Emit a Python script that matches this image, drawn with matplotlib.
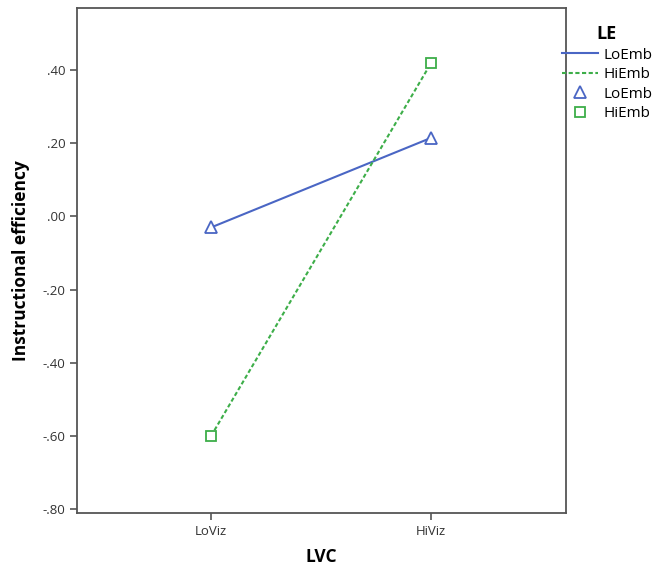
import matplotlib
matplotlib.use("Agg")
import matplotlib.pyplot as plt
from matplotlib.lines import Line2D

plt.rcParams["font.family"] = ["Open Sans", "DejaVu Sans"]

# data
lvc_levels = ["LoViz", "HiViz"]
loemb_means = [-0.03, 0.215]
hiemb_means = [-0.60, 0.42]
y_ticks = [-0.80, -0.60, -0.40, -0.20, 0.00, 0.20, 0.40]
y_tick_labels = ["-.80", "-.60", "-.40", "-.20", ".00", ".20", ".40"]

blue = "#4a66c4"
green = "#3dae49"
frame = "#555555"

fig = plt.figure(figsize=(6.7, 5.67), dpi=100)
ax = fig.add_axes([0.115, 0.095, 0.73, 0.891])

x = list(range(len(lvc_levels)))
ax.plot(x, loemb_means, color=blue, lw=1.5, ls="-")
ax.plot(x, hiemb_means, color=green, lw=1.5, ls=(0, (2, 1.2)))
ax.plot(x, loemb_means, ls="none", marker="^", ms=8, mfc="white", mec=blue, mew=1.3)
ax.plot(x, hiemb_means, ls="none", marker="s", ms=7.5, mfc="white", mec=green, mew=1.3)

ax.set_xlim(-0.609, 1.613)
ax.set_ylim(-0.811, 0.57)
ax.set_xticks(x)
ax.set_xticklabels(lvc_levels)
ax.set_yticks(y_ticks)
ax.set_yticklabels(y_tick_labels)

for sp in ax.spines.values():
    sp.set_color(frame)
    sp.set_linewidth(1.3)
ax.tick_params(direction="out", length=5, width=1.2, color=frame,
               labelsize=9.5, labelcolor="#333333")

ax.set_xlabel("LVC", fontsize=12.5, fontweight="bold", labelpad=7)
ax.set_ylabel("Instructional efficiency", fontsize=12.5, fontweight="bold", labelpad=9)

handles = [
    Line2D([], [], color=blue, lw=1.5),
    Line2D([], [], color=green, lw=1.5, ls=(0, (2, 1.2))),
    Line2D([], [], ls="none", marker="^", ms=8, mfc="white", mec=blue, mew=1.3),
    Line2D([], [], ls="none", marker="s", ms=7.5, mfc="white", mec=green, mew=1.3),
]
leg = fig.legend(handles, ["LoEmb", "HiEmb", "LoEmb", "HiEmb"], title="LE",
                 loc="upper left", bbox_to_anchor=(0.818, 0.98), frameon=False,
                 fontsize=11, handlelength=2.4, handletextpad=0.3,
                 labelspacing=0.3, alignment="center")
leg.get_title().set_fontweight("bold")
leg.get_title().set_fontsize(13)

fig.savefig("out.png", dpi=100)
